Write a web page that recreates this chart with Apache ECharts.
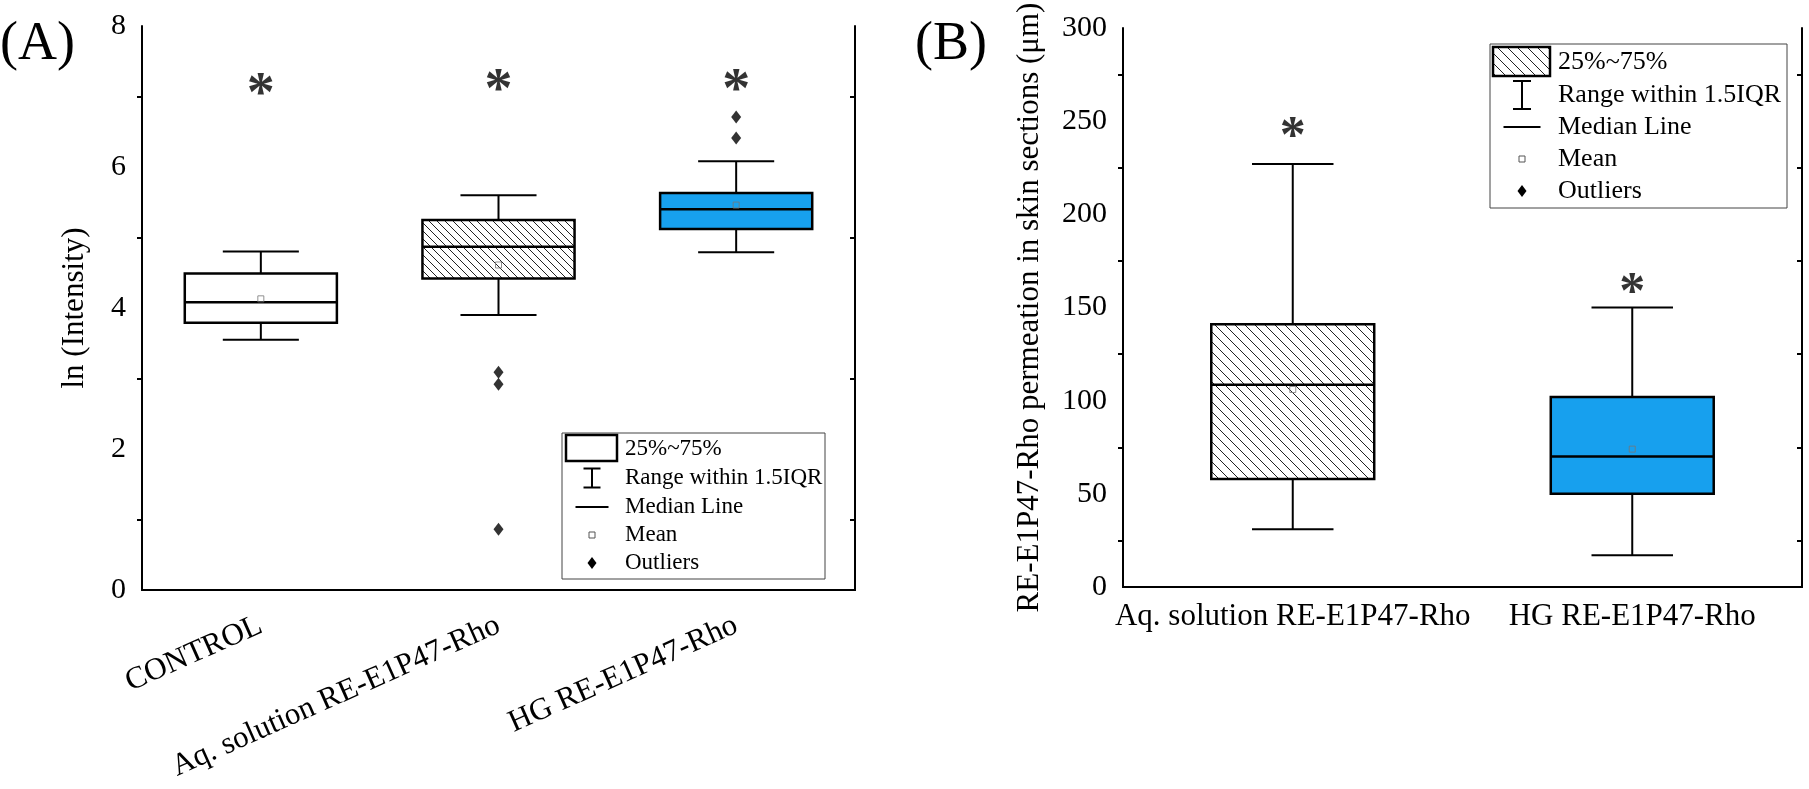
<!DOCTYPE html>
<html>
<head>
<meta charset="utf-8">
<script src="https://cdn.jsdelivr.net/npm/echarts@6.0.0/dist/echarts.min.js"></script>
<style>
  html, body { margin: 0; padding: 0; background: #fff; }
  #chart { width: 1809px; height: 789px; }
</style>
</head>
<body>
<div id="chart"></div>
<script>
  // panel A : ln(Intensity)
  var categoriesA = ['CONTROL', 'Aq. solution RE-E1P47-Rho', 'HG RE-E1P47-Rho'];
  // [min, Q1, median, Q3, max]
  var boxA = [
    [3.55, 3.79, 4.08, 4.49, 4.80],
    [3.90, 4.42, 4.87, 5.25, 5.60],
    [4.79, 5.12, 5.40, 5.63, 6.08]
  ];
  var meanA = [4.13, 4.61, 5.46];
  var outliersA = [[1, 3.09], [1, 2.92], [1, 0.86], [2, 6.71], [2, 6.41]];
  var starsA = [7.17, 7.23, 7.23];

  // panel B : permeation depth (µm)
  var categoriesB = ['Aq. solution RE-E1P47-Rho', 'HG RE-E1P47-Rho'];
  var boxB = [
    [31, 58, 108.5, 141, 227],
    [17, 50, 70, 102, 150]
  ];
  var meanB = [106, 74];
  var starsB = [247, 163];

  var legendNames = ['25%~75%', 'Range within 1.5IQR', 'Median Line', 'Mean', 'Outliers'];

  var FONT = '"Liberation Serif", "Times New Roman", serif';
  var BLUE = '#17a0ee';

  function hatch(step) {
    var c = document.createElement('canvas');
    c.width = c.height = step;
    var g = c.getContext('2d');
    g.fillStyle = '#fff';
    g.fillRect(0, 0, step, step);
    g.strokeStyle = '#222';
    g.lineWidth = 1;
    g.beginPath();
    g.moveTo(0, 0); g.lineTo(step, step);
    g.moveTo(-1, step - 1); g.lineTo(1, step + 1);
    g.moveTo(step - 1, -1); g.lineTo(step + 1, 1);
    g.stroke();
    return { image: c, repeat: 'repeat' };
  }
  var hatchA = hatch(8);
  var hatchB = hatch(10);

  function withIndex(arr) {
    return arr.map(function (d, i) { return [i].concat(d); });
  }

  // box + median line
  function boxSeries(data, axis, fills, ratio) {
    return {
      type: 'custom', name: '25%~75%', xAxisIndex: axis, yAxisIndex: axis,
      silent: true,
      data: withIndex(data),
      renderItem: function (params, api) {
        var i = api.value(0);
        var w = api.size([1, 0])[0] * ratio;
        var q3 = api.coord([i, api.value(4)]);
        var q1 = api.coord([i, api.value(2)]);
        var md = api.coord([i, api.value(3)]);
        return {
          type: 'group',
          children: [
            { type: 'rect', shape: { x: q3[0] - w / 2, y: q3[1], width: w, height: q1[1] - q3[1] },
              style: { fill: fills[i], stroke: '#000', lineWidth: 2.5 } },
            { type: 'line', shape: { x1: md[0] - w / 2, y1: md[1], x2: md[0] + w / 2, y2: md[1] },
              style: { stroke: '#000', lineWidth: 2.5 } }
          ]
        };
      }
    };
  }

  // whiskers with short caps
  function whiskerSeries(data, axis, ratio) {
    return {
      type: 'custom', name: 'Range within 1.5IQR', xAxisIndex: axis, yAxisIndex: axis,
      silent: true,
      data: withIndex(data),
      renderItem: function (params, api) {
        var i = api.value(0);
        var c = api.size([1, 0])[0] * ratio / 2;
        var lo = api.coord([i, api.value(1)]);
        var q1 = api.coord([i, api.value(2)]);
        var q3 = api.coord([i, api.value(4)]);
        var hi = api.coord([i, api.value(5)]);
        var st = { stroke: '#000', lineWidth: 2 };
        return {
          type: 'group',
          children: [
            { type: 'line', shape: { x1: hi[0], y1: hi[1], x2: q3[0], y2: q3[1] }, style: st },
            { type: 'line', shape: { x1: lo[0], y1: lo[1], x2: q1[0], y2: q1[1] }, style: st },
            { type: 'line', shape: { x1: hi[0] - c, y1: hi[1], x2: hi[0] + c, y2: hi[1] }, style: st },
            { type: 'line', shape: { x1: lo[0] - c, y1: lo[1], x2: lo[0] + c, y2: lo[1] }, style: st }
          ]
        };
      }
    };
  }

  function meanSeries(data, axis) {
    return {
      type: 'scatter', name: 'Mean', xAxisIndex: axis, yAxisIndex: axis, silent: true, z: 5,
      symbol: 'rect', symbolSize: 6,
      itemStyle: { color: 'rgba(255,255,255,0)', borderColor: '#777', borderWidth: 1 },
      data: data.map(function (v, i) { return [i, v]; })
    };
  }

  function starSeries(data, axis, size) {
    return {
      type: 'scatter', name: 'star', xAxisIndex: axis, yAxisIndex: axis, silent: true,
      symbol: 'circle', symbolSize: 1, itemStyle: { color: 'rgba(0,0,0,0)' },
      label: { show: true, position: 'inside', formatter: '*', fontSize: size, fontWeight: 'bold',
               fontFamily: FONT, color: '#000', offset: [0, size * 0.22] },
      data: data.map(function (v, i) { return [i, v]; })
    };
  }

  var axisLine = { show: true, lineStyle: { color: '#000', width: 2 } };

  function xAxes(cats, grid, rotate, margin) {
    return [
      { type: 'category', gridIndex: grid, data: cats, position: 'bottom',
        axisLine: axisLine,
        axisTick: { alignWithLabel: true, length: 9, lineStyle: { color: '#000', width: 2 } },
        axisLabel: { fontFamily: FONT, fontSize: 31, color: '#000', rotate: rotate, margin: margin,
                     interval: 0 } },
      { type: 'category', gridIndex: grid, data: cats, position: 'top',
        axisLine: axisLine,
        axisTick: { alignWithLabel: true, inside: true, length: 9, lineStyle: { color: '#000', width: 2 } },
        axisLabel: { show: false } }
    ];
  }

  function yAxes(grid, max, interval, name, nameGap, nameSize) {
    return [
      { type: 'value', gridIndex: grid, min: 0, max: max, interval: interval, position: 'left',
        name: name, nameLocation: 'middle', nameGap: nameGap,
        nameTextStyle: { fontFamily: FONT, fontSize: nameSize, color: '#000' },
        axisLine: axisLine, splitLine: { show: false },
        axisTick: { length: 10, lineStyle: { color: '#000', width: 2 } },
        minorTick: { show: true, splitNumber: 2, length: 5, lineStyle: { color: '#000', width: 2 } },
        axisLabel: { fontFamily: FONT, fontSize: 30, color: '#000', margin: 16 } },
      { type: 'value', gridIndex: grid, min: 0, max: max, interval: interval, position: 'right',
        axisLine: axisLine, splitLine: { show: false },
        axisTick: { inside: true, length: 10, lineStyle: { color: '#000', width: 2 } },
        minorTick: { show: true, splitNumber: 2, length: 5, lineStyle: { color: '#000', width: 2 } },
        axisLabel: { show: false } }
    ];
  }

  function legendGraphic(o) {
    var st = { stroke: '#000', lineWidth: 2, fill: null };
    var cx = o.iconX;
    var r = o.rows;
    var kids = [
      { type: 'rect', shape: { x: o.left, y: o.top, width: o.width, height: o.height },
        style: { fill: '#fff', stroke: '#444', lineWidth: 1 } },
      { type: 'rect', shape: o.swatch, style: { fill: o.swatchFill, stroke: '#000', lineWidth: 2.5 } },
      { type: 'polyline', shape: { points: [[cx - o.cap, r[1] - o.beam], [cx + o.cap, r[1] - o.beam]] }, style: st },
      { type: 'polyline', shape: { points: [[cx, r[1] - o.beam], [cx, r[1] + o.beam]] }, style: st },
      { type: 'polyline', shape: { points: [[cx - o.cap, r[1] + o.beam], [cx + o.cap, r[1] + o.beam]] }, style: st },
      { type: 'line', shape: { x1: cx - o.med, y1: r[2], x2: cx + o.med, y2: r[2] }, style: st },
      { type: 'rect', shape: { x: cx - 3, y: r[3] - 3, width: 6, height: 6 },
        style: { fill: '#fff', stroke: '#555', lineWidth: 1 } },
      { type: 'polygon', shape: { points: [[cx, r[4] - 6], [cx + 4.5, r[4]], [cx, r[4] + 6], [cx - 4.5, r[4]]] },
        style: { fill: '#000' } }
    ];
    legendNames.forEach(function (t, i) {
      kids.push({ type: 'text', x: o.textX, y: r[i],
        style: { text: t, font: o.font + 'px ' + FONT, fill: '#000', verticalAlign: 'middle', align: 'left' } });
    });
    return { type: 'group', z: 100, children: kids };
  }

  var myChart = echarts.init(document.getElementById('chart'));
  var option = {
    animation: false,
    backgroundColor: '#fff',
    grid: [
      { left: 142, top: 26, width: 713, height: 564 },
      { left: 1123, top: 28, width: 679, height: 559 }
    ],
    xAxis: xAxes(categoriesA, 0, 24, 34).concat(xAxes(categoriesB, 1, 0, 14)),
    yAxis: yAxes(0, 8, 2, 'ln (Intensity)', 52, 31)
      .concat(yAxes(1, 300, 50, 'RE-E1P47-Rho permeation in skin sections (\u03bcm)', 78, 31)),
    series: [
      boxSeries(boxA, 0, ['#fff', hatchA, BLUE], 0.64),
      whiskerSeries(boxA, 0, 0.32),
      meanSeries(meanA, 0),
      {
        type: 'scatter', name: 'Outliers', xAxisIndex: 0, yAxisIndex: 0, silent: true,
        symbol: 'diamond', symbolSize: [10, 13], itemStyle: { color: '#000' },
        data: outliersA
      },
      starSeries(starsA, 0, 56),
      // panel B
      boxSeries(boxB, 2, [hatchB, BLUE], 0.48),
      whiskerSeries(boxB, 2, 0.24),
      meanSeries(meanB, 2),
      starSeries(starsB, 2, 52)
    ],
    graphic: [
      { type: 'text', left: 0, top: 18, style: { text: '(A)', font: '54px ' + FONT, fill: '#000' } },
      { type: 'text', left: 915, top: 18, style: { text: '(B)', font: '54px ' + FONT, fill: '#000' } },
      legendGraphic({ left: 562, top: 433, width: 263, height: 146, iconX: 592, textX: 625,
        rows: [449, 478, 507, 535, 563], font: 23, cap: 8.5, beam: 9.5, med: 16.5,
        swatch: { x: 566, y: 435, width: 51, height: 26 }, swatchFill: '#fff' }),
      legendGraphic({ left: 1490, top: 44, width: 297, height: 164, iconX: 1522, textX: 1558,
        rows: [62, 95, 127, 159, 191], font: 26, cap: 9, beam: 14, med: 18.5,
        swatch: { x: 1493, y: 47, width: 57, height: 29 }, swatchFill: hatchB })
    ]
  };
  myChart.setOption(option);
</script>
</body>
</html>
